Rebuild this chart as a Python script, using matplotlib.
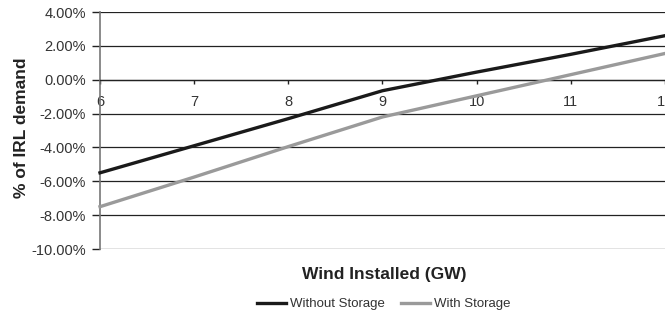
import matplotlib.pyplot as plt
from matplotlib.ticker import FuncFormatter

plt.rcParams['font.family'] = ['Liberation Sans', 'DejaVu Sans']

wind_gw = [6, 7, 8, 9, 10, 11, 12]
without_storage = [-5.5, -3.9, -2.3, -0.65, 0.45, 1.5, 2.6]
with_storage = [-7.5, -5.75, -3.95, -2.2, -0.95, 0.3, 1.55]
y_ticks = [4, 2, 0, -2, -4, -6, -8, -10]

fig = plt.figure(figsize=(6.65, 3.16), dpi=100)
ax = fig.add_axes([100 / 665, 67 / 316, 1 - 100 / 665, 237 / 316])

for y in y_ticks:
    ax.axhline(y, color='#222222', lw=0.9, zorder=1)

ax.plot(wind_gw, without_storage, color='#1a1a1a', lw=2.4, label='Without Storage', zorder=3, clip_on=False)
ax.plot(wind_gw, with_storage, color='#9a9a9a', lw=2.4, label='With Storage', zorder=3, clip_on=False)

ax.set_xlim(6, 12)
ax.set_ylim(-10, 4)
ax.set_yticks(y_ticks)
ax.yaxis.set_major_formatter(FuncFormatter(lambda v, p: f'{v:.2f}%'))
ax.set_xticks(wind_gw)
ax.set_xticklabels([str(w) for w in wind_gw])

for s in ['top', 'right']:
    ax.spines[s].set_visible(False)
ax.spines['left'].set_color('#777777')
ax.spines['left'].set_linewidth(1.2)
ax.spines['bottom'].set_position(('data', 0))
ax.spines['bottom'].set_color('#222222')
ax.spines['bottom'].set_linewidth(0.9)

ax.tick_params(axis='y', length=6, width=1, color='#222222', labelsize=10.5, labelcolor='#333333', pad=4)
ax.tick_params(axis='x', direction='out', length=3, width=1, color='#222222', labelsize=10.5,
               labelcolor='#333333', pad=8)

fig.text(22 / 665, 1 - 128 / 316, '% of IRL demand', rotation=90, ha='center', va='center',
         fontsize=12.5, fontweight='bold', color='#222222')
fig.text(384 / 665, 1 - 274 / 316, 'Wind Installed (GW)', ha='center', va='center',
         fontsize=12.5, fontweight='bold', color='#222222')

fig.legend(loc='center', bbox_to_anchor=(384 / 665, 1 - 304 / 316), ncol=2, frameon=False,
           fontsize=9.5, handlelength=2.2, handletextpad=0.3, columnspacing=1.2,
           labelcolor='#333333')

fig.savefig('out.png', dpi=100)
